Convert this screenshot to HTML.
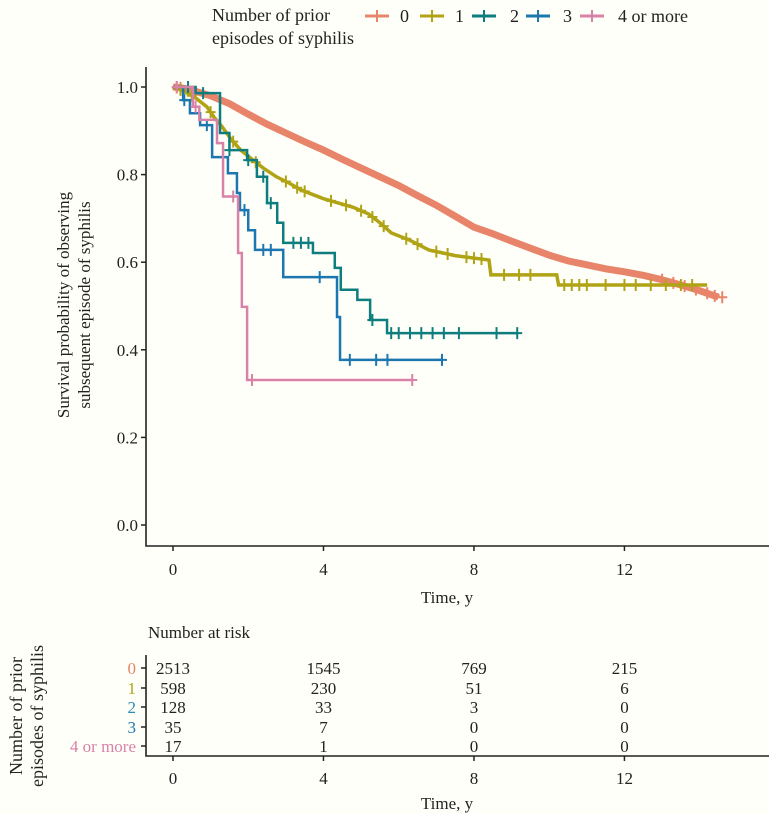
<!DOCTYPE html>
<html><head><meta charset="utf-8">
<style>
html,body{margin:0;padding:0;background:#fffff9;}
svg{display:block;font-family:"Liberation Serif",serif;}
</style></head>
<body>
<svg id="chart" width="769" height="814" viewBox="0 0 769 814">
<rect width="769" height="814" fill="#fffff9"/>
<g>
  <text x="212" y="21" font-size="18" fill="#222">Number of prior</text>
  <text x="212" y="44" font-size="18" fill="#222">episodes of syphilis</text>
  <g id="legendItems"></g>
</g>
<g id="plot"></g>
<g id="risk"></g>
</svg>
<script>
const groups = ["0","1","2","3","4 or more"];
const colors = ["#e8846a","#b0a315","#0e7d7e","#1c76b0","#d982a8"];
// survival data: times (years) and survival after each step
const times0 = [0,0.3,0.6,1,1.5,2,2.5,3,3.5,4,4.5,5,5.5,6,6.5,7,7.5,8,8.5,9,9.5,10,10.5,11,11.5,12,12.5,13,13.5,14,14.5];
const surv0  = [1,0.997,0.99,0.98,0.962,0.938,0.915,0.895,0.875,0.856,0.835,0.815,0.795,0.775,0.752,0.73,0.705,0.68,0.665,0.648,0.632,0.616,0.603,0.594,0.585,0.578,0.57,0.56,0.548,0.535,0.52];
const times1 = [0,0.3,0.6,0.9,1.1,1.3,1.55,1.8,2.1,2.4,2.75,3.1,3.4,3.7,4.0,4.4,4.8,5.2,5.5,5.8,6.3,6.8,7.5,8.4,8.45,10.2,10.25,14.2];
const surv1  = [1,0.99,0.975,0.955,0.93,0.91,0.88,0.856,0.835,0.815,0.795,0.78,0.765,0.755,0.745,0.735,0.725,0.71,0.69,0.667,0.65,0.628,0.615,0.605,0.571,0.571,0.548,0.548];
const times2 = [0,0.6,1.25,1.5,1.97,2.23,2.5,2.77,2.93,3.72,4.3,4.46,4.9,5.24,5.69,9.15];
const surv2  = [1,0.986,0.895,0.856,0.833,0.795,0.735,0.69,0.644,0.621,0.587,0.537,0.514,0.468,0.438,0.438];
const times3 = [0,0.27,0.45,0.72,1.04,1.46,1.7,1.78,2.0,2.18,2.93,4.36,4.44,7.15];
const surv3  = [1,0.97,0.94,0.913,0.84,0.803,0.758,0.719,0.673,0.628,0.566,0.475,0.377,0.377];
const times4 = [0,0.53,0.7,1.17,1.33,1.73,1.83,1.97,6.36];
const surv4  = [1,0.955,0.925,0.872,0.75,0.621,0.498,0.331,0.331];
const censor0 = [0.1,0.2,13,13.3,13.6,13.9,14.2,14.4,14.6];
const censor1 = [0.2,0.5,1,1.6,2.2,3,3.3,3.5,4.2,4.6,5,5.3,5.6,6.2,6.5,7,7.3,7.8,8,8.2,8.8,9.2,9.5,10.4,10.6,10.8,11,11.5,12,12.3,12.7,13.1,13.5,13.8];
const censor2 = [0.4,0.8,1.5,2,2.4,2.6,3.2,3.4,3.6,5.3,5.8,6,6.3,6.6,6.9,7.2,7.6,8.6,9.15];
const censor3 = [0.3,0.9,1.9,2.4,2.6,3.9,4.7,5.4,5.7,7.15];
const censor4 = [0.1,0.6,1.6,2.1,6.36];
const allTimes=[times0,times1,times2,times3,times4];
const allSurv=[surv0,surv1,surv2,surv3,surv4];
const allCens=[censor0,censor1,censor2,censor3,censor4];
const xTicks=[0,4,8,12];
const yTicks=[0,0.2,0.4,0.6,0.8,1.0];
const riskTimes=[0,4,8,12];
const risk0=[2513,1545,769,215];
const risk1=[598,230,51,6];
const risk2=[128,33,3,0];
const risk3=[35,7,0,0];
const risk4=[17,1,0,0];
const riskRows=[risk0,risk1,risk2,risk3,risk4];
const riskLabelColors=["#e8846a","#b0a315","#2a8ab8","#1c76b0","#d982a8"];

const NS="http://www.w3.org/2000/svg";
const X=t=>173+t*37.62;
const Y=s=>525-s*438;
function mk(tag,attrs,parent){const e=document.createElementNS(NS,tag);for(const k in attrs)e.setAttribute(k,attrs[k]);parent.appendChild(e);return e;}
const plot=document.getElementById('plot');
const risk=document.getElementById('risk');
const leg=document.getElementById('legendItems');

const legX=[377,432,484,538,592];
const legLblX=[400,455,510,563,618];
groups.forEach((g,i)=>{
  const l=mk('line',{x1:legX[i]-12,x2:legX[i]+12,y1:16,y2:16,stroke:colors[i],'stroke-width':3},leg);
  
  
  const v=mk('line',{x1:legX[i],x2:legX[i],y1:10,y2:22,stroke:colors[i],'stroke-width':2},leg);
  
  
  const t=mk('text',{x:legLblX[i],y:22,'font-size':18,fill:'#222'},leg);
  t.textContent=g;
  
  
});

const ax=mk('path',{d:'M146 67 V546 H769',fill:'none',stroke:'#222','stroke-width':1.6},plot);


yTicks.forEach(v=>{
  const tk=mk('line',{x1:141,x2:146,y1:Y(v),y2:Y(v),stroke:'#222','stroke-width':1.5},plot);
  
  
  const t=mk('text',{x:138,y:Y(v)+6,'font-size':17,'text-anchor':'end',fill:'#222'},plot);
  t.textContent=v.toFixed(1);
  
  
});
xTicks.forEach(v=>{
  const tk=mk('line',{x1:X(v),x2:X(v),y1:546,y2:551,stroke:'#222','stroke-width':1.5},plot);
  
  
  const t=mk('text',{x:X(v),y:575,'font-size':17,'text-anchor':'middle',fill:'#222'},plot);
  t.textContent=v;
  
  
});
const xt=mk('text',{x:447,y:603,'font-size':17,'text-anchor':'middle',fill:'#222'},plot);
xt.textContent='Time, y';


const yt=mk('text',{transform:'translate(69,305) rotate(-90)','font-size':17,'text-anchor':'middle',fill:'#222'},plot);


const ts1=mk('tspan',{x:0,y:0},yt);ts1.textContent='Survival probability of observing';
const ts2=mk('tspan',{x:0,y:21},yt);ts2.textContent='subsequent episode of syphilis';

function survAt(ti,si,t,smooth){
  if(smooth){for(let k=1;k<ti.length;k++){if(t<=ti[k]){const f=(t-ti[k-1])/(ti[k]-ti[k-1]);return si[k-1]+f*(si[k]-si[k-1]);}}return si[si.length-1];}
  let s=si[0];for(let k=0;k<ti.length;k++){if(ti[k]<=t)s=si[k];}return s;}
groups.forEach((g,i)=>{
  const ti=allTimes[i],si=allSurv[i];
  const smooth=i<2;
  let d='M'+X(ti[0])+' '+Y(si[0]);
  for(let k=1;k<ti.length;k++){
    if(smooth) d+=' L'+X(ti[k])+' '+Y(si[k]);
    else d+=' H'+X(ti[k])+' V'+Y(si[k]);
  }
  const w=i===0?7:(i===1?3.5:2.5);
  const p=mk('path',{d:d,fill:'none',stroke:colors[i],'stroke-width':w},plot);
  
  
  allCens[i].forEach(c=>{
    const yy=Y(survAt(ti,si,c,smooth));
    const m=mk('path',{d:`M${X(c)-5} ${yy} H${X(c)+5} M${X(c)} ${yy-6} V${yy+6}`,stroke:colors[i],'stroke-width':2,fill:'none'},plot);
    
    
  });
});

const rt=mk('text',{x:148,y:638,'font-size':17,fill:'#222'},risk);
rt.textContent='Number at risk';


const rax=mk('path',{d:'M146 655 V756 H769',fill:'none',stroke:'#222','stroke-width':1.6},risk);


const rowY=[668,688,707,727,746];
groups.forEach((g,i)=>{
  const tk=mk('line',{x1:141,x2:146,y1:rowY[i],y2:rowY[i],stroke:'#222','stroke-width':1.5},risk);
  
  
  const l=mk('text',{x:136,y:rowY[i]+6,'font-size':17,'text-anchor':'end',fill:riskLabelColors[i]},risk);
  l.textContent=g;
  
  
  riskRows[i].forEach((n,j)=>{
    const t=mk('text',{x:X(riskTimes[j]),y:rowY[i]+6,'font-size':17,'text-anchor':'middle',fill:'#222'},risk);
    t.textContent=n;
    
    
  });
});
xTicks.forEach(v=>{
  const tk=mk('line',{x1:X(v),x2:X(v),y1:756,y2:761,stroke:'#222','stroke-width':1.5},risk);
  
  
  const t=mk('text',{x:X(v),y:784,'font-size':17,'text-anchor':'middle',fill:'#222'},risk);
  t.textContent=v;
  
  
});
const rxt=mk('text',{x:447,y:809,'font-size':17,'text-anchor':'middle',fill:'#222'},risk);
rxt.textContent='Time, y';


const ryt=mk('text',{transform:'translate(22,716) rotate(-90)','font-size':18,'text-anchor':'middle',fill:'#222'},risk);


const r1=mk('tspan',{x:0,y:0},ryt);r1.textContent='Number of prior';
const r2=mk('tspan',{x:0,y:21},ryt);r2.textContent='episodes of syphilis';
</script>
</body></html>
